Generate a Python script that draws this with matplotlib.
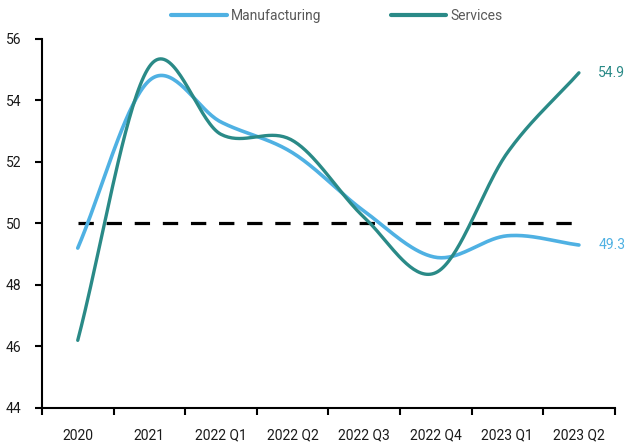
import matplotlib as mpl
import matplotlib.pyplot as plt
import numpy as np
from matplotlib.lines import Line2D

# --- Data ---
periods = ["2020", "2021", "2022 Q1", "2022 Q2", "2022 Q3", "2022 Q4", "2023 Q1", "2023 Q2"]
manufacturing = [49.2, 54.65, 53.3, 52.3, 50.4, 48.9, 49.6, 49.3]
services = [46.2, 55.1, 52.9, 52.7, 50.2, 48.4, 52.3, 54.9]
threshold = 50.0

PALETTE = {
    "manufacturing": "#4FB1E3",
    "services": "#2A8A87",
    "text": "#1a1a1a",
    "legend": "#595959",
}

mpl.rcParams.update({
    "font.family": ["Roboto", "DejaVu Sans"],
    "font.size": 10,
})


def smooth_curve(x, y, samples=40):
    """Catmull-Rom style smoothing between consecutive points (like a spreadsheet 'smoothed line')."""
    x = np.asarray(x, float)
    y = np.asarray(y, float)
    px = np.concatenate([[2 * x[0] - x[1]], x, [2 * x[-1] - x[-2]]])
    py = np.concatenate([[y[0] - (y[1] - y[0])], y, [y[-1] + (y[-1] - y[-2])]])
    xs, ys = [], []
    for i in range(1, len(px) - 2):
        p0, p1, p2, p3 = (np.array([px[j], py[j]]) for j in (i - 1, i, i + 1, i + 2))
        c1 = p1 + (p2 - p0) / 6
        c2 = p2 - (p3 - p1) / 6
        t = np.linspace(0, 1, samples)[:, None]
        pts = ((1 - t) ** 3) * p1 + 3 * ((1 - t) ** 2) * t * c1 + 3 * (1 - t) * t ** 2 * c2 + t ** 3 * p2
        xs.append(pts[:, 0])
        ys.append(pts[:, 1])
    return np.concatenate(xs), np.concatenate(ys)


x = np.arange(len(periods))

fig = plt.figure(figsize=(6.26, 4.48), dpi=100)
ax = fig.add_axes([0.067, 0.0893, 0.915, 0.8237])

# 50 threshold
ax.plot([x[0], x[-1]], [threshold, threshold], color="black", linewidth=2.3,
        dashes=(4.8, 4.0), dash_capstyle="butt", zorder=2)

mx, my = smooth_curve(x, manufacturing)
sx, sy = smooth_curve(x, services)
ax.plot(mx, my, color=PALETTE["manufacturing"], linewidth=2.6, solid_capstyle="round", zorder=3)
ax.plot(sx, sy, color=PALETTE["services"], linewidth=2.4, solid_capstyle="round", zorder=4)

# end-of-line value labels
ax.text(x[-1] + 0.27, manufacturing[-1], f"{manufacturing[-1]:.1f}", color=PALETTE["manufacturing"],
        va="center", ha="left", fontsize=10)
ax.text(x[-1] + 0.27, services[-1], f"{services[-1]:.1f}", color=PALETTE["services"],
        va="center", ha="left", fontsize=10)

ax.set_xlim(-0.5, len(periods) - 0.5)
ax.set_ylim(44, 56)
ax.set_yticks(np.arange(44, 57, 2))
ax.set_xticks(np.arange(-0.5, len(periods), 1.0))
ax.set_xticklabels([])
ax.set_xticks(x, minor=True)
ax.set_xticklabels(periods, minor=True)
ax.tick_params(axis="x", which="minor", length=0, pad=15, labelcolor=PALETTE["text"])
ax.tick_params(axis="x", which="major", length=5, width=1.5, direction="out")
ax.tick_params(axis="y", length=5, width=1.5, direction="out", pad=10, labelcolor=PALETTE["text"])

for side in ("top", "right"):
    ax.spines[side].set_visible(False)
for side in ("left", "bottom"):
    ax.spines[side].set_linewidth(1.5)

handles = [
    Line2D([], [], color=PALETTE["manufacturing"], linewidth=3, solid_capstyle="round"),
    Line2D([], [], color=PALETTE["services"], linewidth=3, solid_capstyle="round"),
]
fig.legend(handles, ["Manufacturing", "Services"], loc="center", bbox_to_anchor=(0.538, 0.965),
           ncol=2, frameon=False, handlelength=4.0, handletextpad=0.3, columnspacing=5.0,
           labelcolor=PALETTE["legend"], fontsize=10)

fig.savefig("out.png", dpi=100)
